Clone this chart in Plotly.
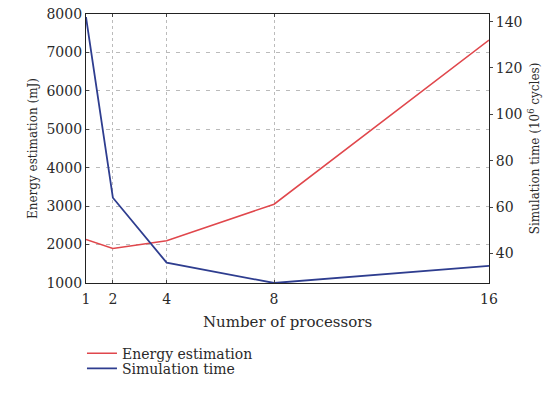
import plotly.graph_objects as go

processors = [1, 2, 4, 8, 16]
energy_mj = [2130, 1900, 2100, 3050, 7320]
sim_time_mcycles = [142, 64, 36, 27.2, 34.6]
x_ticks = [1, 2, 4, 8, 16]
left_ticks = [1000, 2000, 3000, 4000, 5000, 6000, 7000, 8000]
right_ticks = [40, 60, 80, 100, 120, 140]

FONT = "DejaVu Serif"
TXT = "#2a2a2a"
fig = go.Figure()
fig.add_trace(go.Scatter(x=processors, y=energy_mj, mode="lines", name="Energy estimation",
                         line=dict(color="#e0474c", width=1.5), legend="legend"))
fig.add_trace(go.Scatter(x=processors, y=sim_time_mcycles, mode="lines", name="Simulation time",
                         line=dict(color="#2e3d8f", width=1.8), yaxis="y2", legend="legend2"))

H = 282.0
leg_common = dict(x=-0.01, xanchor="left", yanchor="middle", bgcolor="rgba(0,0,0,0)",
                  font=dict(size=14, family=FONT, color=TXT), itemwidth=30,
                  borderwidth=0)
fig.update_layout(
    width=554, height=397,
    margin=dict(l=86, r=65, t=14, b=101),
    paper_bgcolor="white", plot_bgcolor="white",
    font=dict(family=FONT, size=13, color=TXT),
    showlegend=True,
    legend=dict(y=(296 - 370) / H, **leg_common),
    legend2=dict(y=(296 - 386) / H, **leg_common),
    xaxis=dict(range=[1, 16], tickvals=x_ticks, ticks="inside", ticklen=3,
               tickfont=dict(size=14), ticklabelstandoff=3,
               showline=True, linecolor="#222", linewidth=1.2, mirror="ticks",
               showgrid=True, gridcolor="#bbb", griddash="dot", gridwidth=1,
               zeroline=False, automargin=False,
               title=dict(text="Number of processors", standoff=10, font=dict(size=15))),
    yaxis=dict(range=[1000, 8000], tickvals=left_ticks, ticks="inside", ticklen=3,
               tickfont=dict(size=14),
               showline=True, linecolor="#222", linewidth=1.2, mirror=True,
               showgrid=True, gridcolor="#bbb", griddash="4px,6px", gridwidth=1,
               zeroline=False, automargin=False,
               title=dict(text="Energy estimation (mJ)", standoff=6, font=dict(size=12))),
    yaxis2=dict(overlaying="y", side="right", range=[27.2, 143.3], tickvals=right_ticks,
                ticks="outside", ticklen=3, showgrid=False, zeroline=False,
                showline=False, tickfont=dict(size=14), automargin=False,
                title=dict(text="Simulation time (10<sup>6</sup> cycles)", standoff=9,
                           font=dict(size=12))),
)
fig.write_html("out.html")
